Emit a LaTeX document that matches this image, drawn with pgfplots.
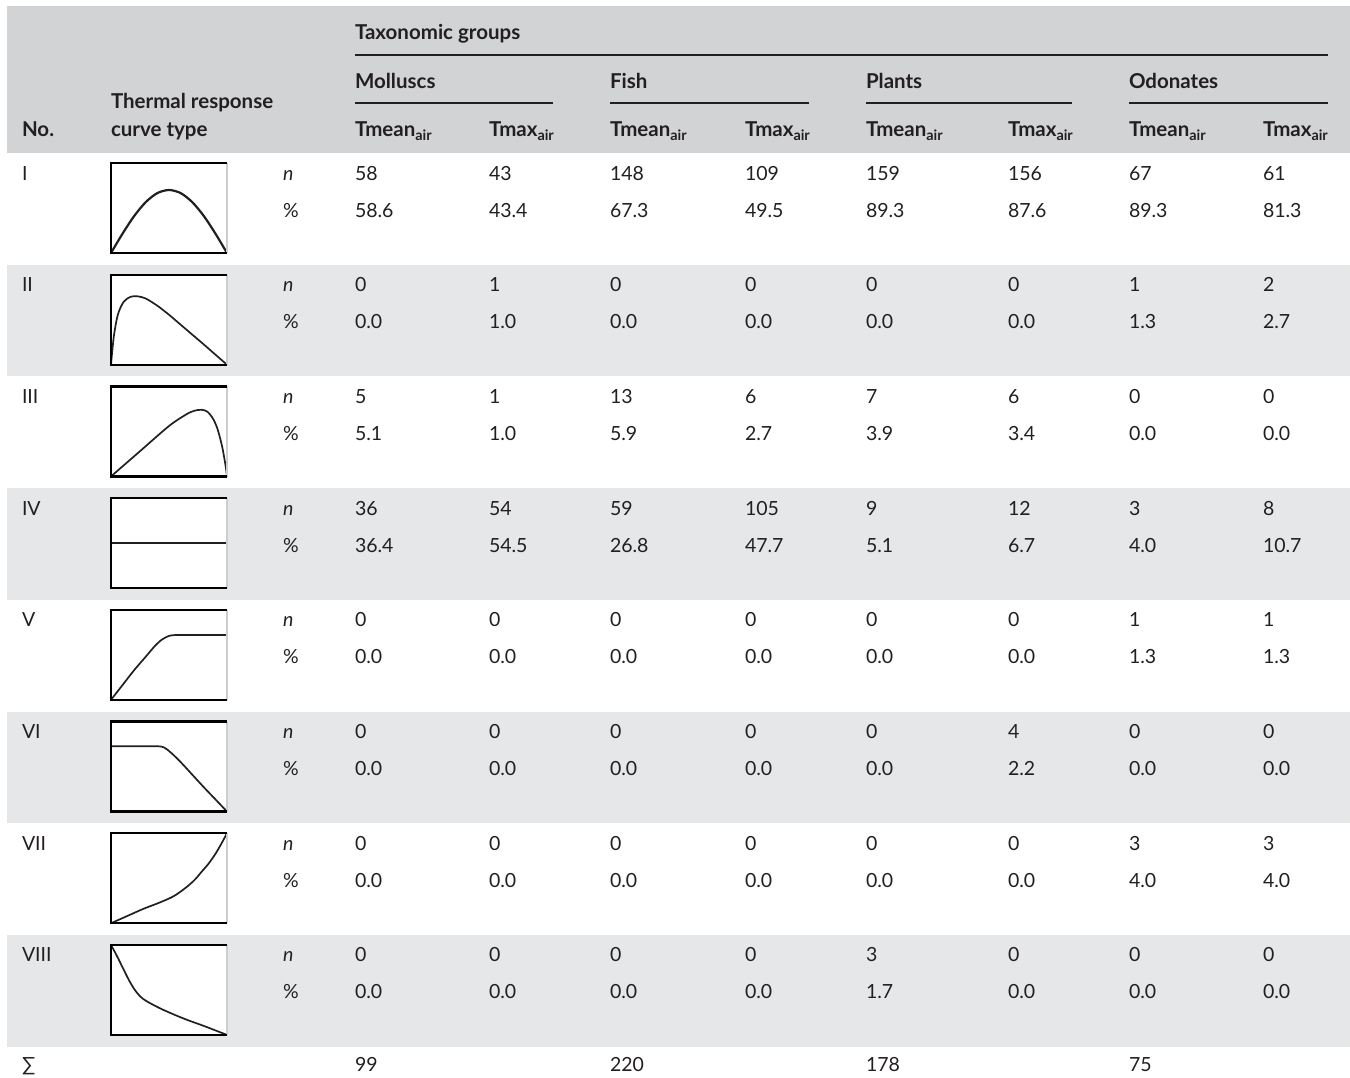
\documentclass[border=0pt]{standalone}
\usepackage{pgfplots}
\pgfplotsset{compat=1.18}
\usepackage{fontspec}
\setmainfont{Lato}
\definecolor{txt}{RGB}{35,31,32}
\definecolor{hdr}{RGB}{209,211,212}
\definecolor{band}{RGB}{230,231,232}
\definecolor{edge}{RGB}{205,205,205}

\pgfplotsset{icon/.style={anchor=south west, width=58pt, height=45pt, scale only axis,
    xmin=0, xmax=1, ymin=0, ymax=1, hide axis, clip=false}}
\tikzset{crv/.style={txt, line width=0.85pt, smooth}}
\newcommand{\hd}{\fontsize{10.25}{12}\selectfont\bfseries}
\newcommand{\air}{\raisebox{-0.45ex}{\fontsize{7.2}{8}\selectfont air}}

\begin{document}
\fontsize{9.75}{12}\selectfont
\begin{tikzpicture}[x=0.5pt, y=-0.5pt, every node/.style={inner sep=0, outer sep=0, text=txt}]
\useasboundingbox (0,0) rectangle (1350,1077);
% header
\fill[hdr] (7,6) rectangle (1350,153);
\foreach \k in {1,3,5,7} {
  \pgfmathsetmacro\t{153+111.7*\k}
  \fill[band] (7,\t) rectangle (1350,\t+111.7);
}
\draw[txt, line width=0.75pt] (355,55) -- (1328,55);
\foreach \a/\b in {355/553, 610/809, 866/1072, 1129/1328}
  \draw[txt, line width=0.75pt] (\a,103) -- (\b,103);
\node[anchor=base west, font=\hd] at (355,39) {Taxonomic groups};
\foreach \x/\g in {355/Molluscs, 610/Fish, 866/Plants, 1129/Odonates}
  \node[anchor=base west, font=\hd] at (\x,88) {\g};
\node[anchor=base west, font=\hd] at (111,108) {Thermal response};
\node[anchor=base west, font=\hd] at (111,136) {curve type};
\node[anchor=base west, font=\hd] at (22,136) {No.};
\foreach \x in {355,610,866,1129}
  \node[anchor=base west, font=\hd] at (\x,136) {Tmean\air};
\foreach \x in {489,745,1008,1263}
  \node[anchor=base west, font=\hd] at (\x,136) {Tmax\air};

% rows
\foreach \k/\r/\nn/\pp in {
  0/I/{58,43,148,109,159,156,67,61}/{58.6,43.4,67.3,49.5,89.3,87.6,89.3,81.3},
  1/II/{0,1,0,0,0,0,1,2}/{0.0,1.0,0.0,0.0,0.0,0.0,1.3,2.7},
  2/III/{5,1,13,6,7,6,0,0}/{5.1,1.0,5.9,2.7,3.9,3.4,0.0,0.0},
  3/IV/{36,54,59,105,9,12,3,8}/{36.4,54.5,26.8,47.7,5.1,6.7,4.0,10.7},
  4/V/{0,0,0,0,0,0,1,1}/{0.0,0.0,0.0,0.0,0.0,0.0,1.3,1.3},
  5/VI/{0,0,0,0,0,4,0,0}/{0.0,0.0,0.0,0.0,0.0,2.2,0.0,0.0},
  6/VII/{0,0,0,0,0,0,3,3}/{0.0,0.0,0.0,0.0,0.0,0.0,4.0,4.0},
  7/VIII/{0,0,0,0,3,0,0,0}/{0.0,0.0,0.0,0.0,1.7,0.0,0.0,0.0}} {
  \pgfmathsetmacro\t{153+111.7*\k}
  \node[anchor=base west] at (22,\t+27) {\r};
  \node[anchor=base west, font=\itshape] at (283,\t+27) {n};
  \node[anchor=base west] at (283,\t+64) {\%};
  \foreach \v [count=\i] in \nn {
    \pgfmathsetmacro\xx{{355,489,610,745,866,1008,1129,1263}[\i-1]}
    \node[anchor=base west] at (\xx,\t+27) {\v};
  }
  \foreach \v [count=\i] in \pp {
    \pgfmathsetmacro\xx{{355,489,610,745,866,1008,1129,1263}[\i-1]}
    \node[anchor=base west] at (\xx,\t+64) {\v};
  }
  \fill[white] (111,\t+10) rectangle (227,\t+100);
  \coordinate (b\k) at (111,\t+100);
}
\node[anchor=base west] at (22,1071) {∑};
\foreach \x/\v in {355/99, 610/220, 866/178, 1129/75}
  \node[anchor=base west] at (\x,1071) {\v};

% curve icons
\begin{axis}[icon, at={(b0)}]
\addplot[crv, line width=1.1pt] coordinates {(0,0) (0.1,0.216) (0.2,0.411) (0.3,0.566) (0.4,0.666) (0.5,0.7) (0.6,0.666) (0.7,0.566) (0.8,0.411) (0.9,0.216) (1,0)};
\end{axis}
\begin{axis}[icon, at={(b1)}]
\addplot[crv] coordinates {(0,0) (0.025,0.32) (0.06,0.56) (0.11,0.7) (0.17,0.755) (0.23,0.76) (0.3,0.735) (0.4,0.655) (0.5,0.555) (0.6,0.445) (0.7,0.335) (0.8,0.225) (0.9,0.112) (1,0)};
\end{axis}
\begin{axis}[icon, at={(b2)}]
\addplot[crv] coordinates {(0,0) (0.25,0.28) (0.5,0.56) (0.65,0.69) (0.72,0.73) (0.78,0.74) (0.83,0.72) (0.88,0.64) (0.92,0.52) (0.96,0.32) (0.99,0.1) (1,0)};
\end{axis}
\begin{axis}[icon, at={(b3)}]
\addplot[crv] coordinates {(0,0.5) (1,0.5)};
\end{axis}
\begin{axis}[icon, at={(b4)}]
\addplot[crv] coordinates {(0,0) (0.1,0.165) (0.2,0.33) (0.3,0.48) (0.38,0.6) (0.44,0.67) (0.5,0.71) (0.56,0.72) (0.7,0.72) (1,0.72)};
\end{axis}
\begin{axis}[icon, at={(b5)}]
\addplot[crv] coordinates {(0,0.725) (0.2,0.725) (0.4,0.725) (0.46,0.71) (0.52,0.65) (0.6,0.55) (0.7,0.41) (0.8,0.27) (0.9,0.135) (1,0)};
\end{axis}
\begin{axis}[icon, at={(b6)}]
\addplot[crv] coordinates {(0,0) (0.14,0.08) (0.28,0.16) (0.42,0.23) (0.54,0.3) (0.64,0.39) (0.72,0.48) (0.78,0.57) (0.84,0.66) (0.9,0.77) (0.95,0.88) (1,1)};
\end{axis}
\begin{axis}[icon, at={(b7)}]
\addplot[crv] coordinates {(0,1) (0.05,0.88) (0.1,0.75) (0.15,0.62) (0.2,0.51) (0.25,0.43) (0.3,0.38) (0.4,0.31) (0.5,0.25) (0.65,0.17) (0.8,0.1) (1,0)};
\end{axis}

% icon frames
\foreach \k in {0,...,7} {
  \pgfmathsetmacro\t{153+111.7*\k}
  \draw[edge, line width=1pt] (227,\t+10) -- (227,\t+100);
  \draw[black, line width=1.1pt] (227,\t+10) -- (111,\t+10) -- (111,\t+100) -- (227,\t+100);
}
\end{tikzpicture}
\end{document}
